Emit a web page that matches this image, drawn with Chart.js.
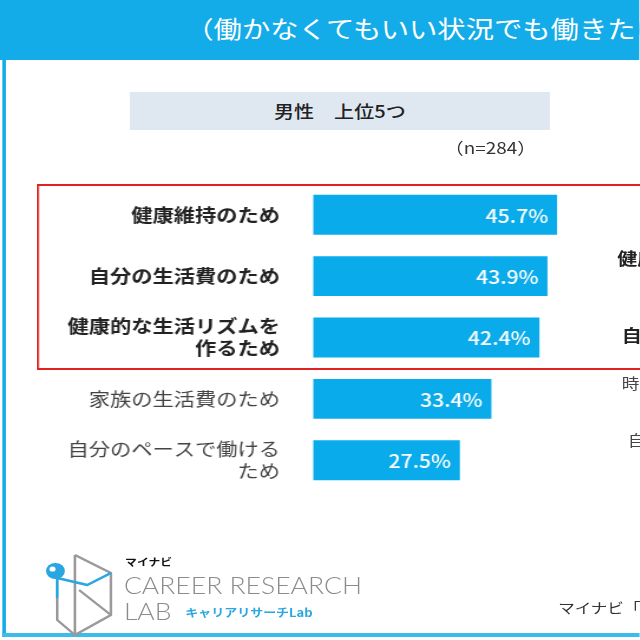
<!DOCTYPE html>
<html lang="ja">
<head>
<meta charset="utf-8">
<script src="https://cdn.jsdelivr.net/npm/chart.js@4.4.1/dist/chart.umd.min.js"></script>
<style>
  html, body { margin: 0; padding: 0; width: 640px; height: 640px; overflow: hidden; background: #fff; }
  body { font-family: "Noto Sans CJK JP", "Noto Sans", sans-serif; }
  /* the reference is stretched horizontally, so the page is drawn narrow and widened */
  #page { position: absolute; left: 0; top: 0; width: 542.4px; height: 640px; overflow: hidden;
          transform: scaleX(1.18); transform-origin: 0 0; }
  .abs { position: absolute; white-space: nowrap; }
  #header { left: 0; top: 0; width: 100%; height: 60px; background: #14ace8; }
  #title { left: 157px; top: 0; line-height: 56px; font-size: 24px; color: #fff; font-weight: 400; }
  #frameL { left: 2px; top: 60px; width: 2.6px; height: 577px; background: #14ace8; }
  #frameB { left: 2px; top: 633px; width: 100%; height: 4px; background: #3bbcec; }
  #subbox { left: 110px; top: 92px; width: 356px; height: 38px; background: #dfe7f1;
            text-align: center; line-height: 38px; font-size: 17px; font-weight: 500; color: #222; }
  #nlabel { left: 377px; top: 135px; width: 76px; text-align: right; font-size: 16px; color: #333; }
  #redbox { left: 31.4px; top: 184px; width: 600px; height: 182px; border: 2px solid #e3211f; pointer-events: none; }
  #chartbox { left: 0; top: 170px; width: 542px; height: 340px; }
  .side { font-size: 17px; color: #222; }
  #logo-ja { left: 106px; top: 554px; font-size: 10px; font-weight: 700; color: #111; }
  #logo-en { left: 105px; top: 572px; font-family: Lato, sans-serif; font-weight: 300; font-size: 22.5px; color: #8c8c8c; line-height: 28px; }
  #logo-lab { left: 105px; top: 598px; font-family: Lato, sans-serif; font-weight: 300; font-size: 22.5px; color: #8c8c8c; line-height: 28px; }
  #logo-kana { left: 157px; top: 604px; font-size: 11px; font-weight: 700; color: #2aa6e0; }
  #source { left: 473px; top: 597px; font-size: 14px; color: #333; }
</style>
</head>
<body>
<div id="page">
  <div class="abs" id="header"></div>
  <div class="abs" id="title">（働かなくてもいい状況でも働きたい理由）</div>
  <div class="abs" id="frameL"></div>
  <div class="abs" id="frameB"></div>
  <div class="abs" id="subbox">男性　上位5つ</div>
  <div class="abs" id="nlabel">（n=284）</div>

  <div class="abs" id="chartbox"><canvas id="chart"></canvas></div>
  <div class="abs" id="redbox"></div>

  <!-- labels of the next chart, cut by the right edge -->
  <div class="abs side" style="left:523px; top:245px; font-weight:700;">健康的な生活リズムを</div>
  <div class="abs side" style="left:527px; top:322px; font-weight:700;">自分の生活費のため</div>
  <div class="abs side" style="left:527px; top:372px; font-size:15px; color:#444;">時間に余裕があるため</div>
  <div class="abs side" style="left:532px; top:429px; font-size:15px; color:#444;">自分のペースで働ける</div>

  <svg class="abs" style="left:30px; top:548px;" width="70" height="90" viewBox="0 0 70 90">
    <g fill="none" stroke="#9a9a9a" stroke-width="2.2" stroke-linejoin="round">
      <polyline points="33.5,7 64,25 64,67 33.5,87 18.5,72 18.5,50"/>
      <line x1="33.5" y1="7" x2="33.5" y2="87"/>
      <line x1="37" y1="42" x2="64" y2="67"/>
    </g>
    <g fill="none" stroke="#2aa6e0" stroke-width="2.4" stroke-linejoin="round">
      <polyline points="18.5,30 18.5,50"/>
      <polyline points="18.5,30 44,37 64,25"/>
    </g>
    <circle cx="17" cy="23" r="8" fill="#2aa6e0"/>
    <circle cx="14.5" cy="21" r="2.6" fill="#fff"/>
  </svg>
  <div class="abs" id="logo-ja">マイナビ</div>
  <div class="abs" id="logo-en">CAREER RESEARCH</div>
  <div class="abs" id="logo-lab">LAB</div>
  <div class="abs" id="logo-kana">キャリアリサーチLab</div>
  <div class="abs" id="source">マイナビ「シニアの就労実態調査」</div>
</div>

<script>
// 理由（男性 上位5つ）
const categories = [
  ['健康維持のため'],
  ['自分の生活費のため'],
  ['健康的な生活リズムを', '作るため'],
  ['家族の生活費のため'],
  ['自分のペースで働ける', 'ため']
];
const values = [45.7, 43.9, 42.4, 33.4, 27.5];
const highlighted = 3; // les 3 premiers sont encadrés en rouge

// Pourcentages en blanc à l'intérieur des barres
const valueLabels = {
  id: 'valueLabels',
  afterDatasetsDraw(chart) {
    const ctx = chart.ctx;
    const meta = chart.getDatasetMeta(0);
    ctx.save();
    ctx.fillStyle = '#ffffff';
    ctx.font = '500 18px "Noto Sans CJK JP", "Noto Sans", sans-serif';
    ctx.textAlign = 'right';
    ctx.textBaseline = 'middle';
    meta.data.forEach((bar, i) => {
      ctx.fillText(values[i].toFixed(1) + '%', bar.x - 7.5, bar.y + 1);
    });
    ctx.restore();
  }
};

new Chart(document.getElementById('chart'), {
  type: 'bar',
  data: {
    labels: categories,
    datasets: [{
      data: values,
      backgroundColor: '#0aabea',
      borderWidth: 0,
      barPercentage: 0.65,
      categoryPercentage: 1
    }]
  },
  options: {
    indexAxis: 'y',
    responsive: true,
    maintainAspectRatio: false,
    animation: false,
    layout: { padding: { left: 0, right: 5.2, top: 14, bottom: 19 } },
    plugins: {
      legend: { display: false },
      tooltip: { enabled: false }
    },
    scales: {
      x: { display: false, min: 0, max: 60 },
      y: {
        grid: { display: false, drawTicks: false, tickLength: 0 },
        border: { display: false },
        afterFit(scale) {
          scale.width = 265.3;
          // pas de marge verticale due aux libellés
          scale.paddingTop = 0;
          scale.paddingBottom = 0;
        },
        ticks: {
          padding: 28,
          color: ctx => ctx.index < highlighted ? '#222222' : '#444444',
          font: ctx => ({
            family: '"Noto Sans CJK JP", "Noto Sans", sans-serif',
            size: 18,
            weight: ctx.index < highlighted ? '700' : '400',
            lineHeight: 1.22
          })
        }
      }
    }
  },
  plugins: [valueLabels]
});
</script>
</body>
</html>
